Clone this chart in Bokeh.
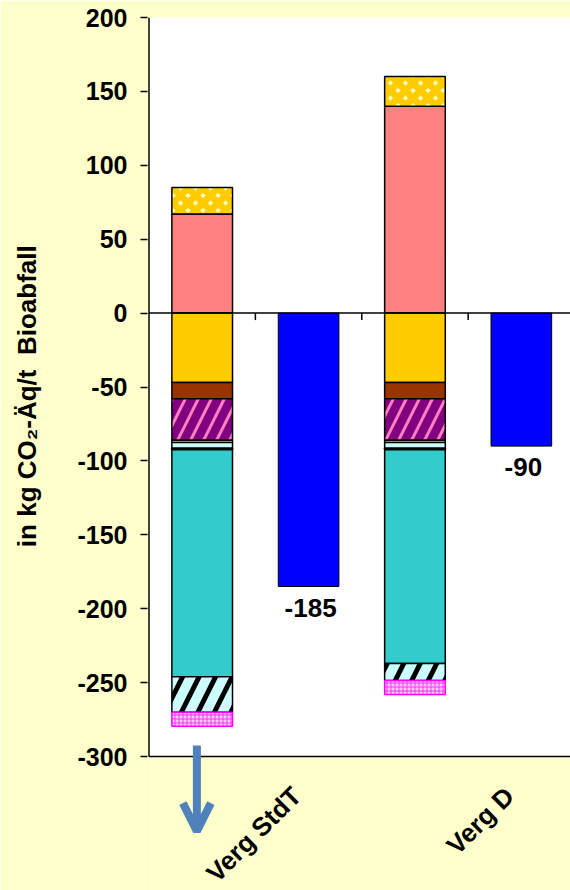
import numpy as np
from bokeh.plotting import figure
from bokeh.models import (Range1d, FixedTicker, Span, Arrow, OpenHead,
                          ColumnDataSource, BoxAnnotation)
from bokeh.core.properties import value
from bokeh.embed import file_html
from bokeh.resources import INLINE

# --- data -----------------------------------------------------------------
categories = ["Verg StdT", "Verg D"]

# emissions stacked above zero
pos_red = [67, 140]
pos_checker = [18, 20]

# credits stacked below zero (top to bottom)
neg_orange = [-47, -47]
neg_brown = [-11, -11]
neg_purple = [-28, -28]
neg_paleyellow = [-1.5, -1.5]
neg_lightcyan = [-4, -4]
neg_dark = [-1, -1]
neg_teal = [-153.5, -144.5]
neg_cyanhatch = [-24, -11.5]
neg_magenta = [-9.5, -9.5]

# net balance per variant
net_total = [-185, -90]

y_ticks = [-300, -250, -200, -150, -100, -50, 0, 50, 100, 150, 200]
y_min, y_max = -300, 200

# --- styles per segment ---------------------------------------------------
pos_series = [
    (pos_red, dict(fill_color="#FF8080")),
    (pos_checker, dict(fill_color="#FFFFCC", hatch_pattern="diagonal_cross",
                       hatch_color="#FFCC00", hatch_scale=15, hatch_weight=7)),
]
neg_series = [
    (neg_orange, dict(fill_color="#FFCC00")),
    (neg_brown, dict(fill_color="#993300")),
    (neg_purple, dict(fill_color="#800080", hatch_pattern="right_diagonal_line",
                      hatch_color="#FF80C0", hatch_scale=26, hatch_weight=3)),
    (neg_paleyellow, dict(fill_color="#FFFF99")),
    (neg_lightcyan, dict(fill_color="#CCFFFF")),
    (neg_dark, dict(fill_color="#000000")),
    (neg_teal, dict(fill_color="#33CCCC")),
    (neg_cyanhatch, dict(fill_color="#CCFFFF", hatch_pattern="right_diagonal_line",
                         hatch_color="#000000", hatch_scale=33, hatch_weight=5)),
    (neg_magenta, dict(fill_color="#FFCCFF", hatch_pattern="cross",
                       hatch_color="#FF33FF", hatch_scale=4, hatch_weight=1,
                       line_color="#FF00FF")),
]

n = len(categories)
stack_x = np.arange(n) * 2 + 0.5     # stacked column slot
total_x = np.arange(n) * 2 + 1.5     # net column slot
bar_w = 0.57

# frame geometry: value axis occupies 739 px, frame runs on to the page bottom
W, H = 570, 890
top_px, axis_px = 17, 739
slot_px = 106.5
px_per_unit = axis_px / (y_max - y_min)
y_low = y_min - (H - top_px - axis_px) / px_per_unit
x_pad = 1.5 / slot_px          # keeps the drawn axis line clear of the frame edge

p = figure(width=W, height=H, output_backend="svg", toolbar_location=None,
           x_range=Range1d(-x_pad, 3.962), y_range=Range1d(y_low, y_max),
           min_border_left=147, min_border_right=0, min_border_top=top_px,
           min_border_bottom=0)
p.background_fill_color = "#FFFFCC"
p.border_fill_color = "#FFFFCC"
p.outline_line_color = None
p.xgrid.visible = False
p.ygrid.visible = False
p.xaxis.visible = False

# white plotting area above the bottom of the value axis
p.add_layout(BoxAnnotation(bottom=y_min, left=0, fill_color="white", fill_alpha=1,
                           line_color=None, level="underlay"))
p.segment(x0=[0, 0], y0=[y_min, y_min], x1=[0, 3.962], y1=[y_max, y_min],
          line_color="black", line_width=1.5)


def draw_stack(series):
    base = np.zeros(n)
    for vals, style in series:
        vals = np.asarray(vals, dtype=float)
        top = base + vals
        kw = dict(line_color="black", line_width=1.5)
        kw.update(style)
        p.vbar(x=stack_x, width=bar_w, bottom=base, top=top, **kw)
        base = top


draw_stack(pos_series)
draw_stack(neg_series)

# net columns
src = ColumnDataSource(dict(x=total_x, top=np.zeros(n), bottom=net_total,
                            label=[str(v) for v in net_total]))
p.vbar(x="x", width=bar_w, top="top", bottom="bottom", source=src,
       fill_color="#0000FF", line_color="black", line_width=1)
p.text(x="x", y="bottom", text="label", source=src, text_align="center",
       text_baseline="top", y_offset=12, x_offset=2,
       text_font=value("Liberation Sans"), text_font_style="bold",
       text_font_size="26px", text_color="black")

# zero line with category separator ticks
p.segment(x0=[0], y0=[0], x1=[3.962], y1=[0], line_color="black", line_width=1.5)
sep = np.arange(1, 2 * n)
tick_len = 7 / px_per_unit
p.segment(x0=sep, y0=np.zeros(len(sep)), x1=sep, y1=-tick_len * np.ones(len(sep)),
          line_color="black", line_width=1.5)

# category names, rotated, under the value axis
cat_src = ColumnDataSource(dict(x=total_x, y=[y_min] * n, name=categories))
p.text(x="x", y="y", text="name", source=cat_src, angle=np.pi / 4,
       text_align="right", text_baseline="middle", x_offset=-12, y_offset=35,
       text_font=value("Liberation Sans"), text_font_style="bold",
       text_font_size="26px", text_color="black")

# y axis (its own line is drawn above, only over the value range)
ya = p.yaxis[0]
ya.ticker = FixedTicker(ticks=y_ticks)
ya.major_label_overrides = {t: str(t) for t in y_ticks}
ya.axis_line_color = None
ya.minor_tick_line_color = None
ya.major_tick_in = 0
ya.major_tick_out = 7
ya.major_tick_line_width = 1.5
ya.major_label_standoff = 13
ya.major_label_text_font = "Liberation Sans"
ya.major_label_text_font_style = "bold"
ya.major_label_text_font_size = "25px"
ya.major_label_text_color = "black"
ya.axis_label = "\u00a0" * 16 + "in kg CO\u2082-Äq/t\u00a0\u00a0Bioabfall"
ya.axis_label_text_font = "Liberation Sans"
ya.axis_label_text_font_style = "bold"
ya.axis_label_text_font_size = "26px"
ya.axis_label_text_color = "black"
ya.axis_label_standoff = 32

# pointer arrow below the first variant
p.add_layout(Arrow(end=OpenHead(line_color="#4F81BD", line_width=8, size=28),
                   x_start=0.45, y_start=-292.5, x_end=0.45, y_end=-350.5,
                   line_color="#4F81BD", line_width=8, level="overlay"))

open("out.html", "w").write(file_html(p, INLINE))
